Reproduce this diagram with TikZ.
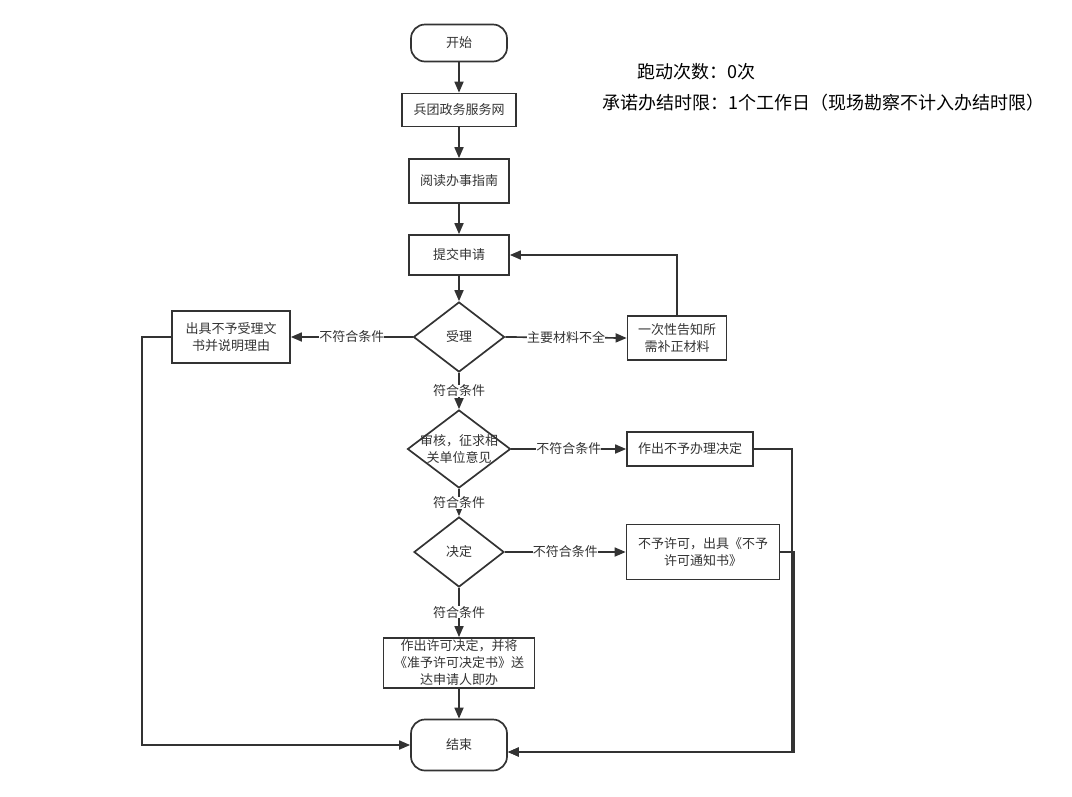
\documentclass[tikz,border=0pt]{standalone}
\usepackage{fontspec}
\setmainfont{Noto Sans CJK SC}
\usetikzlibrary{arrows.meta}
\usetikzlibrary{shapes.geometric}

\definecolor{ink}{HTML}{333333}
\newcommand{\boxfont}{\fontsize{13}{17}\selectfont}
\newcommand{\headfont}{\fontsize{18}{22}\selectfont}

\begin{document}
\begin{tikzpicture}[x=1pt, y=-1pt, >={Triangle[length=11pt,width=9pt]},
    line width=1.7pt, color=ink,
    term/.style={draw, rectangle, rounded corners=14pt, minimum width=96pt, font=\boxfont},
    process/.style={draw, rectangle, align=center, inner sep=2pt, font=\boxfont},
    decision/.style={draw, diamond, inner sep=0pt, font=\boxfont},
    cond/.style={fill=white, inner sep=0pt, font=\boxfont}]
\useasboundingbox (0,0) rectangle (1072,796);

% header notes
\node [anchor=west, inner sep=0pt, font=\headfont, text=black, name=runs] at (637,72) {跑动次数：0次};
\node [anchor=west, inner sep=0pt, font=\headfont, text=black, name=limit] at (602,103) {承诺办结时限：1个工作日（现场勘察不计入办结时限）};

% main column
\node [term, minimum height=37pt, name=start] at (459,43) {开始};
\node [process, minimum width=114pt, minimum height=33pt, name=web] at (459,110) {兵团政务服务网};
\node [process, minimum width=100pt, minimum height=44pt, name=guide] at (459,181) {阅读办事指南};
\node [process, minimum width=100pt, minimum height=40pt, name=submit] at (459,255) {提交申请};
\node [decision, minimum width=91pt, minimum height=70pt, name=accept] at (459,337) {受理};
\node [decision, minimum width=103pt, minimum height=78pt, name=review,
       label={[align=center, font=\boxfont]center:审核，征求相\\关单位意见}] at (459,449) {};
\node [decision, minimum width=90pt, minimum height=70pt, name=decide] at (459,552) {决定};
\node [process, minimum width=151pt, minimum height=47pt, name=permit] at (459,663)
      {作出许可决定，并将\\《准予许可决定书》送\\达申请人即办};
\node [term, minimum height=51pt, name=end] at (459,745) {结束};

% side boxes
\node [process, minimum width=118pt, minimum height=52pt, name=reject] at (231,337) {出具不予受理文\\书并说明理由};
\node [process, minimum width=99pt, minimum height=44pt, name=notify] at (677,338) {一次性告知所\\需补正材料};
\node [process, minimum width=126pt, minimum height=34pt, name=refuse] at (690,449) {作出不予办理决定};
\node [process, minimum width=153pt, minimum height=55pt, name=deny] at (703,552) {不予许可，出具《不予\\许可通知书》};

\draw [->] (start) -- (web);
\draw [->] (web) -- (guide);
\draw [->] (guide) -- (submit);
\draw [->] (submit) -- (accept);
\draw [->] (accept.west) -- node [cond] {不符合条件} (reject.east);
\draw [->] (accept.east) -- node [cond] {主要材料不全} (notify.west);
\draw [->] (notify.north) |- (submit.east);
\draw [->] (accept.south) -- node [cond] {符合条件} (review.north);
\draw [->] (review.east) -- node [cond] {不符合条件} (refuse.west);
\draw [->] (review.south) -- node [cond] {符合条件} (decide.north);
\draw [->] (decide.east) -- node [cond] {不符合条件} (deny.west);
\draw [->] (decide.south) -- node [cond] {符合条件} (permit.north);
\draw [->] (permit) -- (end);
\draw [->] (reject.west) -- (142,337) |- (end.west);
\draw [->] (refuse.east) -- (792,449) |- ([yshift=-7pt]end.east);
\draw [->] (deny.east) -- (794,552) |- ([yshift=-7pt]end.east);
\end{tikzpicture}
\end{document}
